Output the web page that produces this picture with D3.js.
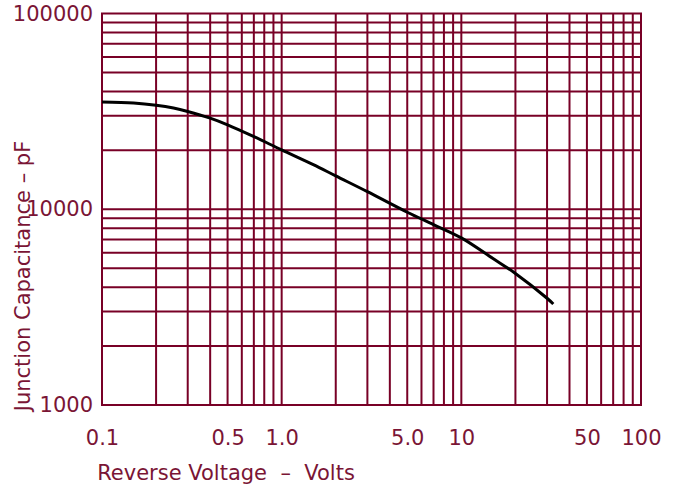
<!DOCTYPE html>
<html>
<head>
<meta charset="utf-8">
<script src="https://cdn.jsdelivr.net/npm/d3@7"></script>
<style>
  body { margin: 0; background: #fff; }
  svg { display: block; }
  text { font-family: "DejaVu Sans", sans-serif; fill: #7a1535; white-space: pre; }
</style>
</head>
<body>
<svg></svg>
<script>
// curve: reverse voltage (V) vs junction capacitance (pF)
const voltage = [0.1, 0.15, 0.2, 0.25, 0.3, 0.4, 0.5, 0.7, 1.0, 1.5, 2, 3, 5, 7, 10, 15, 20, 30, 32.5];
const capacitance = [35300, 34900, 34000, 32900, 31600, 29200, 27000, 23500, 20100, 16900, 14800, 12300, 9650, 8350, 7140, 5600, 4700, 3510, 3280];

const xTicks = [0.1, 0.5, 1, 5, 10, 50, 100];
const xTickLabels = ["0.1", "0.5", "1.0", "5.0", "10", "50", "100"];
const yTicks = [1000, 10000, 100000];
const yTickLabels = ["1000", "10000", "100000"];

const xTitle = "Reverse Voltage  \u2013  Volts";
const yTitle = "Junction Capacitance \u2013 pF";

const W = 677, H = 488;
const margin = { top: 13.5, right: 36, bottom: 83, left: 102 };
const width = W - margin.left - margin.right;
const height = H - margin.top - margin.bottom;
const gridColor = "#780026";

const svg = d3.select("svg").attr("width", W).attr("height", H);
const g = svg.append("g").attr("transform", `translate(${margin.left},${margin.top})`);

const x = d3.scaleLog().domain([0.1, 100]).range([0, width]);
const y = d3.scaleLog().domain([1000, 100000]).range([height, 0]);

// log grid, every 1..9 of each decade
g.append("g").selectAll("line")
  .data(x.ticks())
  .enter().append("line")
  .attr("x1", d => x(d)).attr("x2", d => x(d))
  .attr("y1", 0).attr("y2", height)
  .attr("stroke", gridColor).attr("stroke-width", 2);

g.append("g").selectAll("line")
  .data(y.ticks())
  .enter().append("line")
  .attr("y1", d => y(d)).attr("y2", d => y(d))
  .attr("x1", -1).attr("x2", width + 1)
  .attr("stroke", gridColor).attr("stroke-width", 2);

// axes: labels only
const xAxis = g.append("g")
  .attr("transform", `translate(0,${height})`)
  .call(d3.axisBottom(x).tickValues(xTicks).tickFormat((d, i) => xTickLabels[i]).tickSize(0).tickPadding(25));
const yAxis = g.append("g")
  .call(d3.axisLeft(y).tickValues(yTicks).tickFormat((d, i) => yTickLabels[i]).tickSize(0).tickPadding(9));

[xAxis, yAxis].forEach(a => {
  a.select(".domain").remove();
  a.selectAll("text").attr("fill", "#7a1535").style("font-size", "21px").style("font-family", "DejaVu Sans, sans-serif");
});

// curve
const line = d3.line()
  .x(d => x(d[0]))
  .y(d => y(d[1]))
  .curve(d3.curveCatmullRom.alpha(0.5));

g.append("path")
  .datum(voltage.map((v, i) => [v, capacitance[i]]))
  .attr("d", line)
  .attr("fill", "none")
  .attr("stroke", "#000")
  .attr("stroke-width", 3)
  .attr("stroke-linejoin", "round");

// titles
svg.append("text")
  .attr("x", 226).attr("y", 480)
  .attr("text-anchor", "middle")
  .style("font-size", "21px")
  .text(xTitle);

svg.append("text")
  .attr("transform", "translate(30,276) rotate(-90)")
  .attr("text-anchor", "middle")
  .style("font-size", "21px")
  .text(yTitle);
</script>
</body>
</html>
